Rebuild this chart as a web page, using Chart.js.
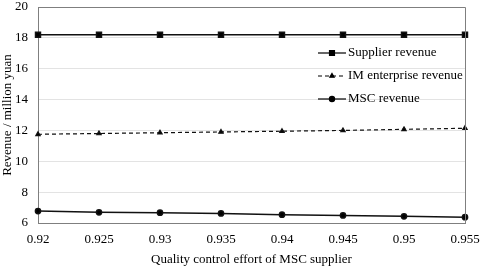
<!DOCTYPE html>
<html>
<head>
<meta charset="utf-8">
<script src="https://cdn.jsdelivr.net/npm/chart.js@4"></script>
<style>
  html, body { margin: 0; padding: 0; background: #fff; }
  #wrap { width: 480px; height: 267px; }
</style>
</head>
<body>
<div id="wrap"><canvas id="chart" width="480" height="267"></canvas></div>
<script>
// Data
const effortLabels = ["0.92", "0.925", "0.93", "0.935", "0.94", "0.945", "0.95", "0.955"];
const supplierRevenue = [18.2, 18.2, 18.2, 18.2, 18.2, 18.2, 18.2, 18.2];
const imRevenue = [11.75, 11.8, 11.85, 11.9, 11.95, 12.0, 12.07, 12.14];
const mscRevenue = [6.77, 6.69, 6.67, 6.62, 6.54, 6.49, 6.43, 6.38];
const seriesNames = ["Supplier revenue", "IM enterprise revenue", "MSC revenue"];

const FONT = "'Liberation Serif', 'Times New Roman', serif";

// Legend drawn inside the plot area, upper right
const insideLegend = {
  id: "insideLegend",
  afterDraw(chart) {
    const { ctx, chartArea } = chart;
    const x0 = chartArea.left + 280;
    const y0 = chartArea.top + 46;
    ctx.save();
    ctx.font = "13px " + FONT;
    ctx.textBaseline = "middle";
    chart.data.datasets.forEach((ds, i) => {
      const y = y0 + i * 23;
      ctx.strokeStyle = "#000";
      ctx.lineWidth = 1.2;
      ctx.setLineDash(ds.borderDash || []);
      ctx.beginPath();
      ctx.moveTo(x0, y);
      ctx.lineTo(x0 + 28, y);
      ctx.stroke();
      ctx.setLineDash([]);
      Chart.helpers.drawPoint(ctx, {
        pointStyle: ds.pointStyle,
        radius: ds.pointRadius,
        borderWidth: 1
      }, x0 + 14, y);
      ctx.fillStyle = "#000";
      ctx.fillText(ds.label, x0 + 30, y);
    });
    ctx.restore();
  }
};

new Chart(document.getElementById("chart").getContext("2d"), {
  type: "line",
  data: {
    labels: effortLabels,
    datasets: [
      {
        label: seriesNames[0],
        data: supplierRevenue,
        borderColor: "#111",
        backgroundColor: "#000",
        borderWidth: 1.5,
        pointStyle: "rect",
        pointRadius: 3.5,
        fill: false,
      },
      {
        label: seriesNames[1],
        data: imRevenue,
        borderColor: "#111",
        backgroundColor: "#000",
        borderWidth: 1.2,
        borderDash: [4, 3],
        pointStyle: "triangle",
        pointRadius: 2.5,
        fill: false,
      },
      {
        label: seriesNames[2],
        data: mscRevenue,
        borderColor: "#111",
        backgroundColor: "#000",
        borderWidth: 1.5,
        pointStyle: "circle",
        pointRadius: 2.6,
        fill: false,
      },
    ],
  },
  options: {
    responsive: false,
    animation: false,
    devicePixelRatio: 1,
    layout: { autoPadding: false, padding: { top: 7, right: 15, left: 0, bottom: 0 } },
    plugins: {
      legend: { display: false },
      tooltip: { enabled: false },
    },
    scales: {
      x: {
        type: "category",
        offset: false,
        grid: { display: false, drawTicks: false },
        border: { color: "#7f7f7f", width: 1 },
        ticks: { color: "#000", font: { family: FONT, size: 13 }, padding: 9, maxRotation: 0, autoSkip: false },
        title: {
          display: true,
          text: "Quality control effort of MSC supplier",
          color: "#000",
          font: { family: FONT, size: 13 },
          padding: { top: 0, bottom: 0 },
        },
        // fixed box so the plot area matches the figure
        afterFit(s) { s.height = 44; s.paddingLeft = 0; s.paddingRight = 0; },
      },
      y: {
        min: 6,
        max: 20,
        grid: { color: "#e3e3e3", drawTicks: false },
        border: { color: "#7f7f7f", width: 1 },
        ticks: { stepSize: 2, color: "#000", font: { family: FONT, size: 13 }, padding: 10 },
        title: {
          display: true,
          text: "Revenue / million yuan",
          color: "#000",
          font: { family: FONT, size: 13 },
          padding: { top: 0, bottom: 0 },
        },
        afterFit(s) { s.width = 38; s.paddingTop = 0; s.paddingBottom = 0; },
      },
    },
  },
  plugins: [insideLegend, {
    id: "frame",
    afterDraw(chart) {
      const { ctx, chartArea: a } = chart;
      ctx.save();
      ctx.strokeStyle = "#7f7f7f";
      ctx.lineWidth = 1;
      ctx.beginPath();
      ctx.moveTo(a.left, a.top + 0.5);
      ctx.lineTo(a.right + 0.5, a.top + 0.5);
      ctx.lineTo(a.right + 0.5, a.bottom);
      ctx.stroke();
      ctx.restore();
    }
  }],
});
</script>
</body>
</html>
